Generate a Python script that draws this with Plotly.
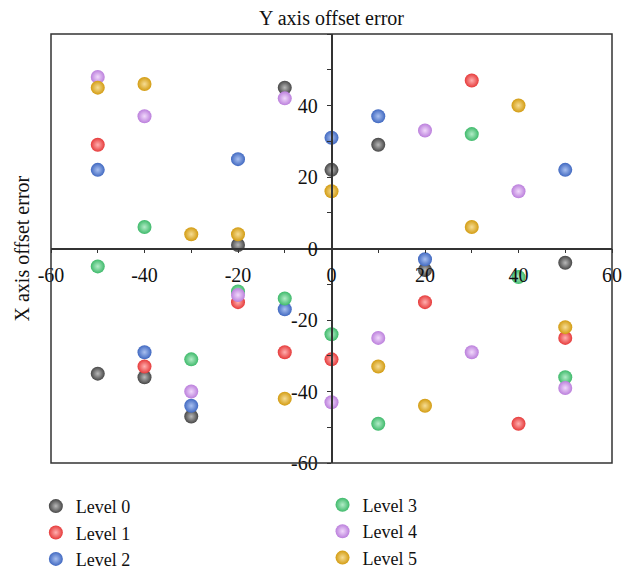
import plotly.graph_objects as go

# Data (x = Y axis offset error, y = X axis offset error)
level_names = ["Level 0", "Level 1", "Level 2", "Level 3", "Level 4", "Level 5"]

level0_x = [-10, 0, -20, 10, 20, 50, -50, -40, -30]
level0_y = [45, 22, 1, 29, -6, -4, -35, -36, -47]

level1_x = [-50, 30, -20, -10, -40, 0, 20, 50, 40]
level1_y = [29, 47, -15, -29, -33, -31, -15, -25, -49]

level2_x = [0, -20, -50, 10, 50, -10, -40, -30, 20]
level2_y = [31, 25, 22, 37, 22, -17, -29, -44, -3]

level3_x = [-40, 30, -50, -20, -10, 0, -30, 40, 50, 10]
level3_y = [6, 32, -5, -12, -14, -24, -31, -8, -36, -49]

level4_x = [-50, -10, -40, 20, 40, -20, -30, 0, 10, 30, 50]
level4_y = [48, 42, 37, 33, 16, -13, -40, -43, -25, -29, -39]

level5_x = [-50, -40, 0, -30, -20, 40, 30, -10, 50, 10, 20]
level5_y = [45, 46, 16, 4, 4, 40, 6, -42, -22, -33, -44]

tick_vals = [-60, -50, -40, -30, -20, -10, 0, 10, 20, 30, 40, 50, 60]
x_tick_text = ["-60", "", "-40", "", "-20", "", "0", "", "20", "", "40", "", "60"]
y_tick_text = ["-60", "", "-40", "", "-20", "", "0", "", "20", "", "40", "", ""]

colors = ["#474747", "#e63b3b", "#4169c1", "#3fba6b", "#bb7fdc", "#d39c12"]
highlights = ["#b8b8b8", "#ffb0b0", "#a9c0f0", "#b3ecc8", "#f1d9fb", "#f6dd95"]

xs = [level0_x, level1_x, level2_x, level3_x, level4_x, level5_x]
ys = [level0_y, level1_y, level2_y, level3_y, level4_y, level5_y]

FONT = "Liberation Serif"

fig = go.Figure()
for i in range(6):
    fig.add_trace(go.Scatter(
        x=xs[i], y=ys[i], mode="markers", name=level_names[i],
        legend="legend" if i < 3 else "legend2",
        marker=dict(size=14, color=colors[i], line=dict(width=0),
                    gradient=dict(type="radial", color=highlights[i])),
        cliponaxis=False,
    ))

axis_common = dict(
    range=[-60, 60], tickvals=tick_vals, showgrid=False, zeroline=False,
    showline=True, linecolor="#333333", linewidth=1.5,
    ticks="outside", ticklen=4, tickwidth=1.2, tickcolor="#333333",
    tickfont=dict(family=FONT, size=20, color="#111111"),
    anchor="free", position=0.5,
)

fig.update_layout(
    width=633, height=571,
    margin=dict(l=51, r=21, t=34, b=108, autoexpand=False),
    paper_bgcolor="white", plot_bgcolor="white",
    font=dict(family=FONT, size=20, color="#111111"),
    xaxis=dict(**axis_common, ticktext=x_tick_text, ticklabelstandoff=5),
    yaxis=dict(**axis_common, ticktext=y_tick_text, ticklabelstandoff=5),
    legend=dict(x=-0.027, y=-0.058, xanchor="left", yanchor="top",
                bgcolor="rgba(0,0,0,0)", font=dict(family=FONT, size=18),
                tracegroupgap=0),
    legend2=dict(x=0.484, y=-0.055, xanchor="left", yanchor="top",
                 bgcolor="rgba(0,0,0,0)", font=dict(family=FONT, size=18),
                 tracegroupgap=0),
    shapes=[dict(type="rect", xref="paper", yref="paper", x0=0, y0=0, x1=1, y1=1,
                 line=dict(color="#333333", width=1.5), layer="above")],
    annotations=[
        dict(text="Y axis offset error", xref="paper", yref="paper", x=0.5, y=1.0373,
             xanchor="center", yanchor="middle", showarrow=False,
             font=dict(family=FONT, size=20, color="#111111")),
        dict(text="X axis offset error", xref="paper", yref="paper", x=-0.0517, y=0.5,
             xanchor="center", yanchor="middle", showarrow=False, textangle=-90,
             font=dict(family=FONT, size=20, color="#111111")),
    ],
)

fig.write_html("out.html")
